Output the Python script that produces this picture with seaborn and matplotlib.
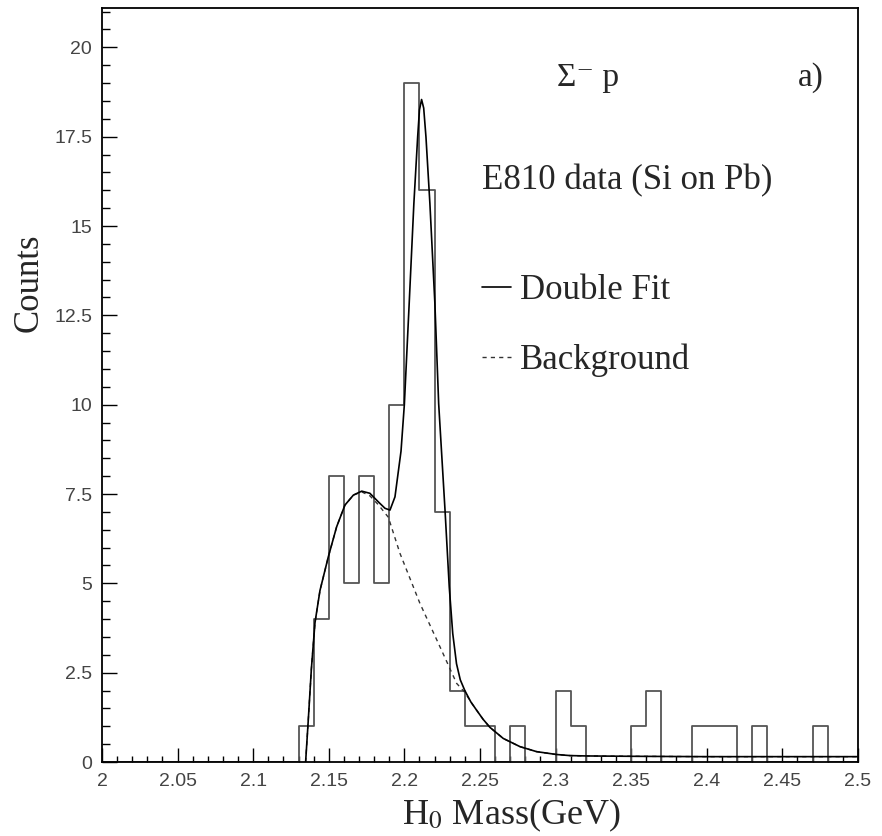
import numpy as np
import pandas as pd
import matplotlib
matplotlib.use("Agg")
import matplotlib.pyplot as plt
from matplotlib.ticker import MultipleLocator, FuncFormatter
import seaborn as sns

# histogram: 0.01 GeV bins from 2.00 to 2.50 (lower edges)
bin_low = np.round(np.arange(2.00, 2.50, 0.01), 2)
counts = [0, 0, 0, 0, 0, 0, 0, 0, 0, 0, 0, 0, 0,
          1, 4, 8, 5, 8, 5, 10, 19, 16, 7, 2, 1, 1, 0, 1, 0, 0,
          2, 1, 0, 0, 0, 1, 2, 0, 0, 1, 1, 1, 0, 1, 0, 0, 0, 1, 0, 0]

# double fit curve
fit_x = [2.1347, 2.1365, 2.1385, 2.1409, 2.1442, 2.1497, 2.1552, 2.1607, 2.1663,
         2.1718, 2.1772, 2.1828, 2.1872, 2.1905, 2.1938, 2.1978, 2.2000, 2.2032,
         2.2063, 2.2088, 2.2100, 2.2114, 2.2128, 2.2143, 2.2169, 2.2202, 2.2227,
         2.2250, 2.2269, 2.2297, 2.2320, 2.2345, 2.2370, 2.2400, 2.2440, 2.2478,
         2.2520, 2.2566, 2.2654, 2.2765, 2.2875, 2.3007, 2.3095, 2.3200, 2.3500,
         2.4000, 2.4500, 2.5000]
fit_y = [0, 1.2, 2.6, 3.9, 4.8, 5.74, 6.58, 7.19, 7.47,
         7.58, 7.52, 7.28, 7.10, 7.05, 7.42, 8.7, 10.0, 12.83,
         15.63, 17.49, 18.25, 18.54, 18.3, 17.49, 15.63, 12.83, 10.03,
         8.4, 7.05, 4.9, 3.6, 2.75, 2.3, 2.0, 1.68, 1.45,
         1.2, 0.97, 0.66, 0.43, 0.29, 0.21, 0.18, 0.17, 0.16,
         0.15, 0.15, 0.15]

# background curve
bkg_x = [2.1347, 2.1365, 2.1385, 2.1409, 2.1442, 2.1497, 2.1552, 2.1607, 2.1663,
         2.1718, 2.1772, 2.1828, 2.1894, 2.1971, 2.2103, 2.2235, 2.2346, 2.2400,
         2.2440, 2.2478, 2.2520, 2.2566, 2.2654, 2.2765, 2.2875, 2.3007, 2.3095,
         2.3200, 2.3500, 2.4000, 2.4500, 2.5000]
bkg_y = [0, 1.2, 2.6, 3.9, 4.8, 5.74, 6.58, 7.19, 7.47,
         7.56, 7.45, 7.2, 6.85, 5.84, 4.44, 3.23, 2.20, 1.95,
         1.68, 1.45, 1.2, 0.97, 0.66, 0.43, 0.29, 0.21, 0.18,
         0.17, 0.16, 0.15, 0.15, 0.15]

hist_df = pd.DataFrame({"mass": bin_low + 0.005, "counts": counts})
edges = [float(v) for v in np.append(bin_low, 2.50)]

sns.set_theme(style="white")
plt.rcParams["font.family"] = ["Liberation Serif", "DejaVu Serif"]
plt.rcParams["mathtext.fontset"] = "stix"

fig = plt.figure(figsize=(8.82, 8.36), dpi=100)
ax = fig.add_axes([0.1156, 0.0885, 0.8571, 0.9019])

sns.histplot(data=hist_df, x="mass", weights="counts", bins=edges,
             element="step", fill=False, color="#555555", linewidth=1.3, ax=ax)
sns.lineplot(x=bkg_x, y=bkg_y, color="#333333", linewidth=1.0,
             linestyle=(0, (3, 3)), estimator=None, sort=False, ax=ax,
             label="Background")
sns.lineplot(x=fit_x, y=fit_y, color="black", linewidth=1.2,
             estimator=None, sort=False, ax=ax, label="Double Fit")

ax.set_xlim(2.0, 2.5)
ax.set_ylim(0, 21.1)

ax.xaxis.set_major_locator(MultipleLocator(0.05))
ax.xaxis.set_minor_locator(MultipleLocator(0.01))
ax.yaxis.set_major_locator(MultipleLocator(2.5))
ax.yaxis.set_minor_locator(MultipleLocator(0.5))
ax.xaxis.set_major_formatter(FuncFormatter(lambda v, p: f"{v:g}"))
ax.yaxis.set_major_formatter(FuncFormatter(lambda v, p: f"{v:g}"))
ax.tick_params(axis="x", which="major", direction="in", length=10, width=1, pad=8,
               labelsize=14, labelcolor="#444444", color="black")
ax.tick_params(axis="x", which="minor", direction="in", length=4.5, width=1, color="black")
ax.tick_params(axis="y", which="major", direction="in", length=11, width=1, pad=7,
               labelsize=14, labelcolor="#444444", color="black")
ax.tick_params(axis="y", which="minor", direction="in", length=6, width=1, color="black")
ax.tick_params(bottom=True, left=True, which="both")
for lab in ax.get_xticklabels() + ax.get_yticklabels():
    lab.set_family("Liberation Sans")

for side in ["top", "right", "bottom", "left"]:
    ax.spines[side].set_visible(True)
    ax.spines[side].set_color("black")
    ax.spines[side].set_linewidth(1.3)

ax.set_xlabel(r"H$_0$ Mass(GeV)", fontsize=26)
ax.set_ylabel("Counts", fontsize=25)
ax.xaxis.set_label_coords(0.541, -0.046)
ax.yaxis.set_label_coords(-0.075, 0.635)

ax.text(2.301, 19.16, "\u03a3\u207b p", fontsize=24, va="center")
ax.text(2.4603, 19.16, "a)", fontsize=24, va="center")
ax.text(2.2513, 16.28, "E810 data (Si on Pb)", fontsize=25, va="center")

handles, labels = ax.get_legend_handles_labels()
order = [labels.index("Double Fit"), labels.index("Background")]
ax.legend([handles[i] for i in order], [labels[i] for i in order],
          loc="upper left", bbox_to_anchor=(0.5026, 0.647), frameon=False,
          fontsize=25, handlelength=0.85, handletextpad=0.25,
          labelspacing=1.05, borderpad=0, borderaxespad=0)

fig.savefig("out.png", dpi=100)
